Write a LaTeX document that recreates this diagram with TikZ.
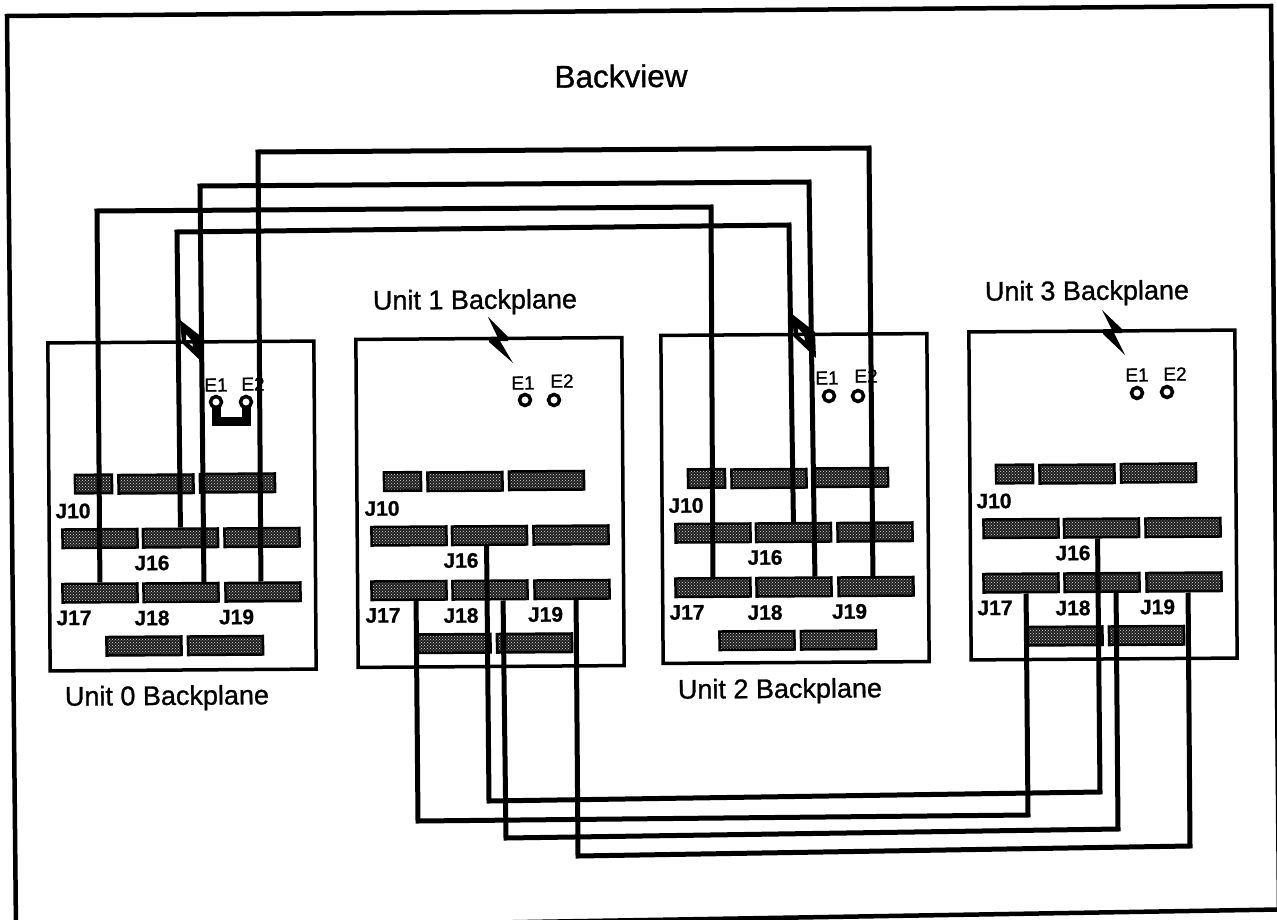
\documentclass[tikz,border=0pt]{standalone}
\usepackage{fontspec}
\setmainfont{Liberation Sans}
\newfontfamily\scanfont[FakeBold=1]{Liberation Sans}
\newfontfamily\scanbold[FakeBold=0.8]{Liberation Sans Bold}
\usetikzlibrary{patterns}

\begin{document}
\begin{tikzpicture}[y=-1pt, x=1pt,
	every node/.style={rotate=0.4},
	plane/.style={draw, line width=3.5pt, minimum width=266pt, minimum height=328pt},
	connbox/.style={draw, line width=2.5pt, inner sep=0pt, minimum width=75pt, minimum height=18.5pt,
		preaction={fill=black!88}, pattern=crosshatch dots, pattern color=white!85!black},
	shortbox/.style={connbox, minimum width=37pt},
	post/.style={circle, draw, fill=white, line width=3.5pt, inner sep=0pt, minimum size=11pt},
	jlabel/.style={font=\fontsize{21}{21}\scanbold\selectfont, inner sep=0pt},
	elabel/.style={font=\fontsize{19}{19}\scanfont\selectfont, inner sep=0pt},
	title/.style={font=\fontsize{27}{27}\scanfont\selectfont, inner sep=0pt}]
	\useasboundingbox (0,0) rectangle (1277,920);
	% outer frame
	\draw [line width=4.5pt, line join=miter] (7,16) -- (1271,6) -- (1279,909.5) -- (16,930.5) -- cycle;

	\node [title, font=\fontsize{31.5}{32}\scanfont\selectfont] (BV) at (621,76) {Backview};
	\node [title] (T0) at (167,698) {Unit 0 Backplane};
	\node [title] (T1) at (475,302) {Unit 1 Backplane};
	\node [title] (T2) at (780,691) {Unit 2 Backplane};
	\node [title] (T3) at (1087,293) {Unit 3 Backplane};

	\begin{scope}[every node/.style={plane, rotate=0.4}]
	\node (U0) at (182,506) {};
	\node (U1) at (490,502.5) {};
	\node (U2) at (795,498.5) {};
	\node (U3) at (1103,495) {};
	\end{scope}

	\begin{scope}[every node/.style={shortbox, rotate=0.4}]
	\node (U0A1) at (93.5,484) {};
	\node (U1A1) at (402.5,481.5) {};
	\node (U2A1) at (706.5,478.5) {};
	\node (U3A1) at (1014.5,474) {};
	\end{scope}

	\begin{scope}[every node/.style={connbox, rotate=0.4}]
	% unit 0
	\node (U0A2) at (156,484) {};
	\node (U0A3) at (237.5,483) {};
	\node (U0B1) at (100,538.5) {};
	\node (U0B2) at (180.5,538) {};
	\node (U0B3) at (262,537.5) {};
	\node (U0C1) at (100,593) {};
	\node (U0C2) at (181,592.5) {};
	\node (U0C3) at (263,592) {};
	\node (U0D1) at (144,646) {};
	\node (U0D2) at (225.5,645.5) {};
	% unit 1
	\node (U1A2) at (465,481.5) {};
	\node (U1A3) at (546.5,480.5) {};
	\node (U1B1) at (409,536) {};
	\node (U1B2) at (489.5,535.5) {};
	\node (U1B3) at (571,535) {};
	\node (U1C1) at (409,590.5) {};
	\node (U1C2) at (490,590) {};
	\node (U1C3) at (572,589.5) {};
	\node (U1D1) at (453,643.5) {};
	\node (U1D2) at (534.5,643) {};
	% unit 2
	\node (U2A2) at (769,478.5) {};
	\node (U2A3) at (850.5,477.5) {};
	\node (U2B1) at (713,533) {};
	\node (U2B2) at (793.5,532.5) {};
	\node (U2B3) at (875,532) {};
	\node (U2C1) at (713,587.5) {};
	\node (U2C2) at (794,587) {};
	\node (U2C3) at (876,586.5) {};
	\node (U2D1) at (757,640.5) {};
	\node (U2D2) at (838.5,640) {};
	% unit 3
	\node (U3A2) at (1077,474) {};
	\node (U3A3) at (1158.5,473) {};
	\node (U3B1) at (1021,528.5) {};
	\node (U3B2) at (1101.5,528) {};
	\node (U3B3) at (1183,527.5) {};
	\node (U3C1) at (1021,583) {};
	\node (U3C2) at (1102,582.5) {};
	\node (U3C3) at (1184,582) {};
	\node (U3D1) at (1065,636) {};
	\node (U3D2) at (1146.5,635.5) {};
	\end{scope}

	\begin{scope}[every node/.style={jlabel, rotate=0.4}]
	\node (L0A) at (73,511) {J10};
	\node (L0B) at (152,563) {J16};
	\node (L0C) at (74,618) {J17};
	\node (L0D) at (152,618) {J18};
	\node (L0E) at (236.5,617) {J19};
	\node (L1A) at (382,508.5) {J10};
	\node (L1B) at (461,560.5) {J16};
	\node (L1C) at (383,615.5) {J17};
	\node (L1D) at (461,615.5) {J18};
	\node (L1E) at (545.5,614.5) {J19};
	\node (L2A) at (686,505.5) {J10};
	\node (L2B) at (765,557.5) {J16};
	\node (L2C) at (687,612.5) {J17};
	\node (L2D) at (765,612.5) {J18};
	\node (L2E) at (849.5,611.5) {J19};
	\node (L3A) at (994,501) {J10};
	\node (L3B) at (1073,553) {J16};
	\node (L3C) at (995,608) {J17};
	\node (L3D) at (1073,608) {J18};
	\node (L3E) at (1157.5,607) {J19};
	\end{scope}

	\begin{scope}[every node/.style={elabel, rotate=0.4}]
	\node (N0A) at (216,385) {E1};
	\node (N0B) at (253,384) {E2};
	\node (N1A) at (523,383) {E1};
	\node (N1B) at (562,381) {E2};
	\node (N2A) at (827,378) {E1};
	\node (N2B) at (866,376) {E2};
	\node (N3A) at (1137,375) {E1};
	\node (N3B) at (1175,374) {E2};
	\end{scope}

	% jumper on unit 0, below the posts
	\coordinate (P0A) at (216,402);
	\coordinate (P0B) at (246,402);
	\draw [line width=9pt, line join=miter] (P0A) -- (216,421) -- (246,421) -- (P0B);

	\begin{scope}[every node/.style={post}]
	\node (E0A) at (P0A) {};
	\node (E0B) at (P0B) {};
	\node (E1A) at (525,400) {};
	\node (E1B) at (554,400) {};
	\node (E2A) at (829,396) {};
	\node (E2B) at (858,396) {};
	\node (E3A) at (1137,393) {};
	\node (E3B) at (1167,392) {};
	\end{scope}

	% upper cables, unit 0 to unit 2
	\begin{scope}[every path/.style={draw=black, line width=5pt, line join=miter}]
	\path (U0C1.north) -- (97,211) -- (711,207) -- (U2C1.north);
	\path (U0B2.north) -- (177,232) -- (789,225) -- (U2B2.north);
	\path ([xshift=23pt]U0C2.north) -- (200,186) -- (809,182) -- ([xshift=21pt]U2C2.north);
	\path ([xshift=-2pt]U0C3.north) -- (258,152) -- (869,148) -- ([xshift=-3pt]U2C3.north);
	\end{scope}
	% lower cables, unit 1 to unit 3
	\begin{scope}[every path/.style={draw=black, line width=5pt, line join=miter}]
	\path ([xshift=7pt]U1C1.south) -- (418,821) -- (1028,815) -- ([xshift=5pt]U3C1.south);
	\path ([xshift=-3pt]U1B2.south) -- (489,801) -- (1100,792) -- ([xshift=-4pt]U3B2.south);
	\path ([xshift=13pt]U1C2.south) -- (506,838) -- (1118,829) -- ([xshift=14pt]U3C2.south);
	\path ([xshift=4pt]U1C3.south) -- (578,856) -- (1190,846) -- ([xshift=4pt]U3C3.south);
	\end{scope}

	% leaders from the titles
	\fill (488,317) -- (508,337) -- (508,341) -- (500,341) -- (513,363) -- (489,342) -- (489,338) -- (498,338) -- cycle;
	\fill (1102,310) -- (1122,329) -- (1122,333) -- (1114,333) -- (1125,355) -- (1103,334) -- (1103,330) -- (1112,330) -- cycle;
	\fill [even odd rule] (180,320) -- (203,338) -- (204,364) -- (182,343) -- cycle
		(186,334) -- (192,341) -- (193,347) -- (186,341) -- cycle;
	\fill [even odd rule] (792,314) -- (815,332) -- (816,358) -- (794,337) -- cycle
		(798,328) -- (804,335) -- (805,341) -- (798,335) -- cycle;
\end{tikzpicture}
\end{document}
